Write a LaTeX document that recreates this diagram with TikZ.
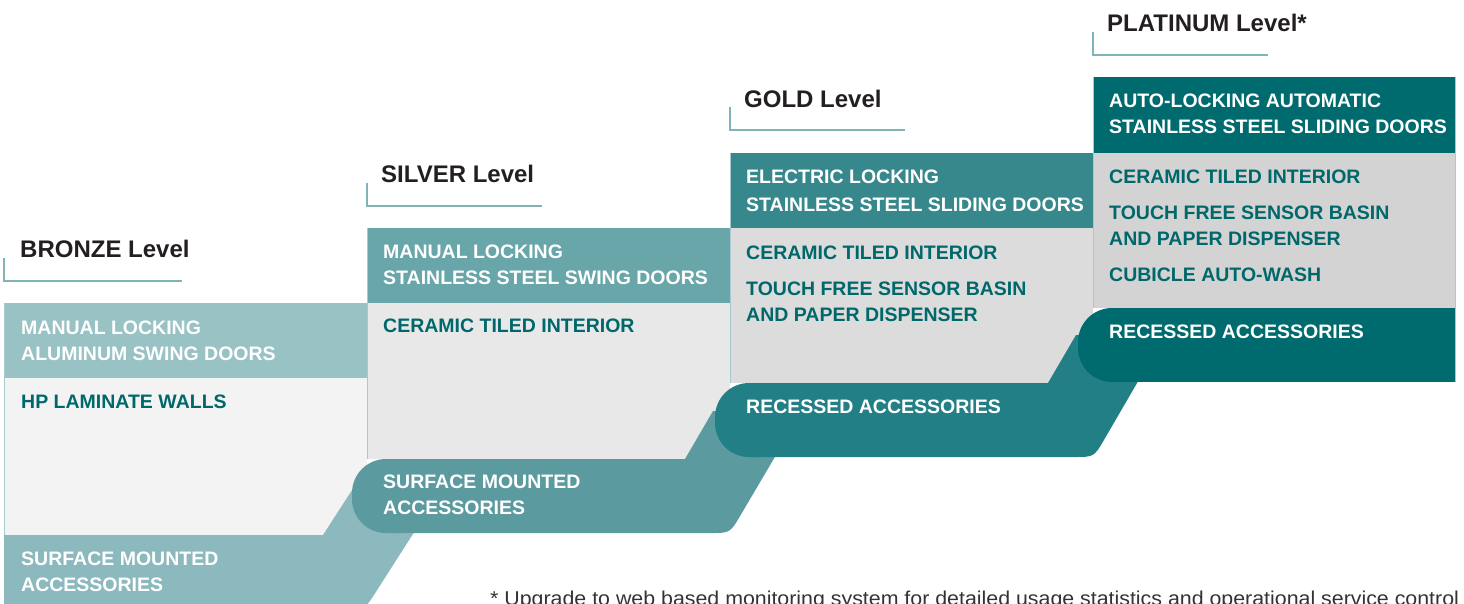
\documentclass[tikz,border=0pt]{standalone}
\usepackage{fontspec}
\setmainfont{Liberation Sans}
\newfontfamily\notefont[FakeStretch=1.068]{Liberation Sans}
\definecolor{bronzehead}{HTML}{99C2C4}
\definecolor{bronzebody}{HTML}{F3F3F3}
\definecolor{bronzeband}{HTML}{8CB9BD}
\definecolor{silverhead}{HTML}{68A6AA}
\definecolor{silverbody}{HTML}{E8E8E8}
\definecolor{silverband}{HTML}{5B9BA0}
\definecolor{goldhead}{HTML}{37888C}
\definecolor{goldbody}{HTML}{DCDCDC}
\definecolor{goldband}{HTML}{237F86}
\definecolor{plathead}{HTML}{006B6E}
\definecolor{platbody}{HTML}{D3D3D3}
\definecolor{platband}{HTML}{006B6E}
\definecolor{itemteal}{HTML}{00686B}
\definecolor{tickline}{HTML}{82B4B7}
\definecolor{boxline}{HTML}{A8CACC}
\definecolor{labeltext}{HTML}{231F20}
\tikzstyle{level}=[font=\fontsize{24}{28}\selectfont\bfseries,text=labeltext,anchor=base west,inner sep=0pt]
\tikzstyle{doors}=[font=\fontsize{19.5}{26}\selectfont\bfseries,text=white,anchor=base west,inner sep=0pt,align=left]
\tikzstyle{item}=[font=\fontsize{19.5}{26}\selectfont\bfseries,text=itemteal,anchor=base west,inner sep=0pt,align=left]
\tikzstyle{tick}=[draw=tickline,line width=1.3pt]
\tikzstyle{edge}=[draw=boxline,line width=1pt]

\begin{document}
\begin{tikzpicture}[x=1pt,y=-1pt]
\useasboundingbox (0,0) rectangle (1464,603);
\clip (0,0) rectangle (1464,603);

\fill[bronzehead] (4,303) rectangle (367,378);
\fill[bronzebody] (4,378) rectangle (367,535);
\fill[silverhead] (367,228) rectangle (730,303);
\fill[silverbody] (367,303) rectangle (730,459);
\fill[goldhead] (730,153) rectangle (1093,228);
\fill[goldbody] (730,228) rectangle (1093,383);
\fill[plathead] (1093,77) rectangle (1455,153);
\fill[platbody] (1093,153) rectangle (1455,308);
\draw[edge] (4,303) -- (4,603);
\draw[edge] (367,228) -- (367,459);
\draw[edge] (730,153) -- (730,383);
\draw[edge] (1093,77) -- (1093,308);
\draw[edge] (1455,77) -- (1455,382);

\fill[bronzeband] (4,535) -- (323,535) -- (354,487) -- (443,487) -- (375.8,592.1)
  .. controls (365,609) .. (345,609) -- (4,609) -- cycle;
\fill[silverband, rounded corners=34] (352,459) rectangle (430,533);
\fill[silverband] (390,459) -- (685,459) -- (713,411) -- (802,411) -- (740.2,515.8)
  .. controls (730,533) .. (710,533) -- (390,533) -- cycle;
\fill[goldband, rounded corners=34] (715,383) rectangle (793,457);
\fill[goldband] (753,383) -- (1048,383) -- (1076,335) -- (1165,335) -- (1104.1,439.7)
  .. controls (1094,457) .. (1074,457) -- (753,457) -- cycle;
\fill[platband, rounded corners=34] (1078,308) rectangle (1156,382);
\fill[platband] (1116,308) rectangle (1455,382);

\draw[tick] (4,258) -- (4,281) -- (182,281);
\draw[tick] (367,183) -- (367,206) -- (542,206);
\draw[tick] (730,107) -- (730,130) -- (905,130);
\draw[tick] (1093,32) -- (1093,55) -- (1268,55);

\node[level] (bronze) at (20,257) {BRONZE Level};
\node[level] (silver) at (381,182) {SILVER Level};
\node[level] (gold) at (744,107) {GOLD Level};
\node[level] (platinum) at (1107,31) {PLATINUM Level*};

\node[doors] (bronzedoors) at (21,360) {MANUAL LOCKING\\ALUMINUM SWING DOORS};
\node[item] (bronzewalls) at (21,408) {HP LAMINATE WALLS};
\node[doors] (bronzeacc) at (21,591) {SURFACE MOUNTED\\ACCESSORIES};

\node[doors] (silverdoors) at (383,284) {MANUAL LOCKING\\STAINLESS STEEL SWING DOORS};
\node[item] (silvertiles) at (383,332) {CERAMIC TILED INTERIOR};
\node[doors] (silveracc) at (383,514) {SURFACE MOUNTED\\ACCESSORIES};

\node[doors] (golddoors) at (746,211) {ELECTRIC LOCKING\\[2pt]STAINLESS STEEL SLIDING DOORS};
\node[item] (goldtiles) at (746,259) {CERAMIC TILED INTERIOR};
\node[item] (goldbasin) at (746,321) {TOUCH FREE SENSOR BASIN\\AND PAPER DISPENSER};
\node[doors] (goldacc) at (746,413) {RECESSED ACCESSORIES};

\node[doors] (platdoors) at (1109,133) {AUTO-LOCKING AUTOMATIC\\STAINLESS STEEL SLIDING DOORS};
\node[item] (plattiles) at (1109,183) {CERAMIC TILED INTERIOR};
\node[item] (platbasin) at (1109,245) {TOUCH FREE SENSOR BASIN\\AND PAPER DISPENSER};
\node[item] (platwash) at (1109,281) {CUBICLE AUTO-WASH};
\node[doors] (platacc) at (1109,338) {RECESSED ACCESSORIES};

\node[font=\notefont\fontsize{20}{22}\selectfont,text=black!80,anchor=base west,inner sep=0pt] (note) at (490,605.3)
  {* Upgrade to web based monitoring system for detailed usage statistics and operational service control};
\end{tikzpicture}
\end{document}
